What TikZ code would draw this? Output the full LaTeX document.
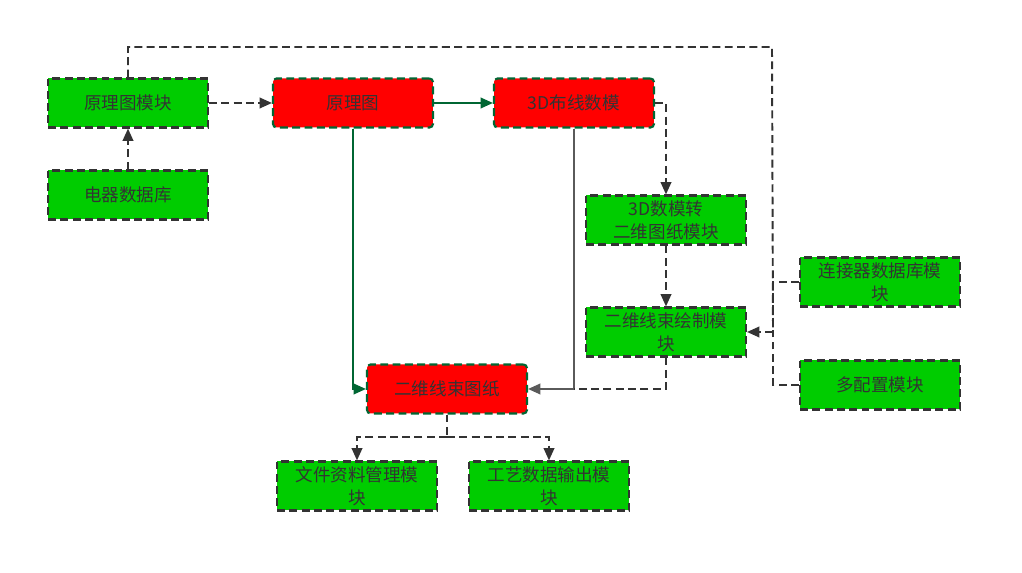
\documentclass[tikz,border=0pt]{standalone}
\usepackage{fontspec}
\setmainfont{Noto Sans CJK SC}
\usetikzlibrary{arrows.meta,positioning}
\definecolor{mygreen}{RGB}{0,204,0}
\definecolor{myred}{RGB}{255,0,0}
\definecolor{mydark}{RGB}{51,51,51}
\definecolor{mydkgreen}{RGB}{0,102,51}
\definecolor{mygray}{RGB}{90,90,90}

\begin{document}
\begin{tikzpicture}[x=0.02cm,y=-0.02cm,
  gbox/.style={rectangle,draw=mydark,fill=mygreen,line width=1.2pt,
               dash pattern=on 4.5pt off 2.5pt,text=mydark,align=center,
               minimum width=3.2cm,minimum height=0.98cm,inner sep=1pt,
               font=\fontsize{10}{13}\selectfont},
  rbox/.style={gbox,draw=mydkgreen,fill=myred,rounded corners=2pt},
  dline/.style={draw=mydark,line width=1.1pt,dash pattern=on 4.5pt off 2.5pt,
                -{Triangle[length=7pt,width=6pt]}},
  gline/.style={draw=mydkgreen,line width=1.1pt,
                -{Triangle[length=7pt,width=6pt]}},
  sline/.style={draw=mygray,line width=1.1pt,
                -{Triangle[length=7pt,width=6pt]}}]
\useasboundingbox (0,0) rectangle (1022,573);

% left column
\node[gbox] (mod) at (128,103) {原理图模块};
\node[gbox] (db)  at (128,195) {电器数据库};

% main flow
\node[rbox] (sch)   at (353,103) {原理图};
\node[rbox] (model) at (574,103) {3D布线数模};
\node[gbox] (conv)  at (666,220) {3D数模转\\二维图纸模块};
\node[gbox] (drw)   at (666,332) {二维线束绘制模\\块};
\node[rbox] (harn)  at (447,389) {二维线束图纸};

% right column
\node[gbox] (conn)  at (880,282) {连接器数据库模\\块};
\node[gbox] (multi) at (880,385) {多配置模块};

% outputs
\node[gbox] (file) at (357,486) {文件资料管理模\\块};
\node[gbox] (proc) at (549,486) {工艺数据输出模\\块};

\coordinate (topr)  at (772,47);
\coordinate (bus)   at (773,332);
\coordinate (split) at (447,437);

\draw[dline] (db.north) -- (mod.south);
\draw[dline] (mod.east) -- (sch.west);
\draw[gline] (sch.east) -- (model.west);
\draw[gline] (sch.south) |- (harn.west);
\draw[sline] (model.south) |- (harn.east);
\draw[dline] (model.east) -| (conv.north);
\draw[dline] (conv.south) -- (drw.north);
\draw[dline,-] (drw.south) |- (model.south |- harn.east);

\draw[dline,-] (mod.north) |- (topr) -- (bus);
\draw[dline,-] (conn.west) -| (bus);
\draw[dline,-] (multi.west) -| (bus);
\draw[dline] (bus) -- (drw.east);

\draw[dline,-] (harn.south) -- (split);
\draw[dline] (split) -| (file.north);
\draw[dline] (split) -| (proc.north);
\end{tikzpicture}
\end{document}
